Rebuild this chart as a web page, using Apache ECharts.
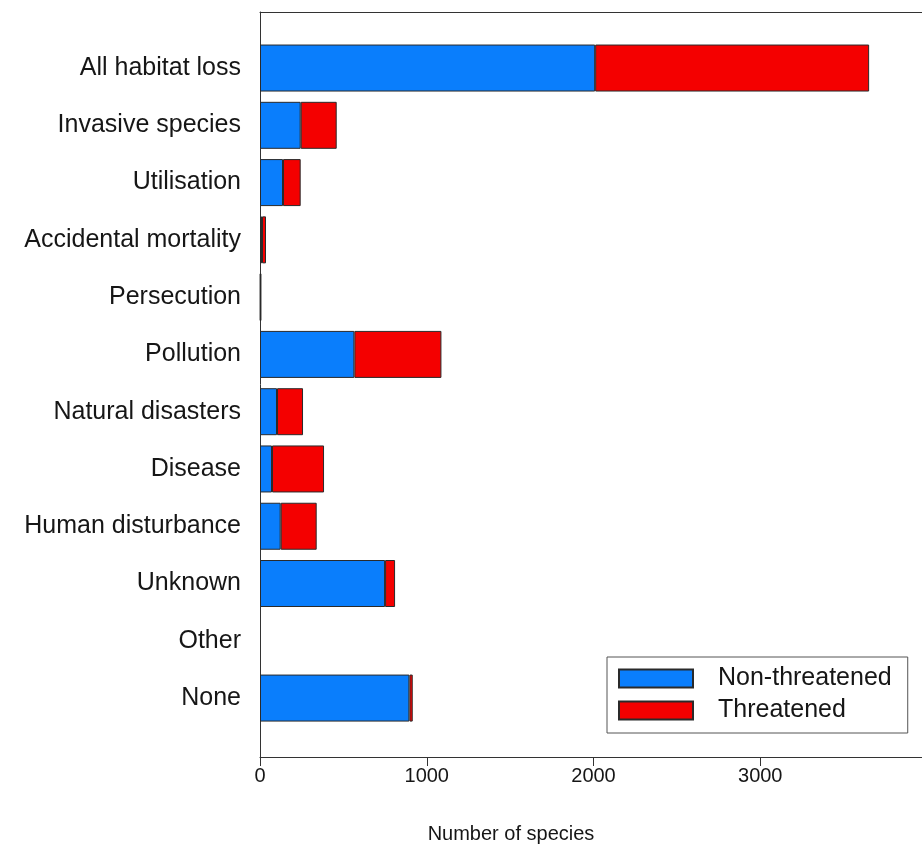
<!DOCTYPE html>
<html>
<head>
<meta charset="utf-8">
<script src="https://cdn.jsdelivr.net/npm/echarts@6/dist/echarts.min.js"></script>
<style>
  html, body { margin: 0; padding: 0; background: #fff; }
  #main { width: 922px; height: 852px; }
</style>
</head>
<body>
<div id="main"></div>
<script>
// threat categories, top to bottom
var categories = ['All habitat loss', 'Invasive species', 'Utilisation', 'Accidental mortality',
    'Persecution', 'Pollution', 'Natural disasters', 'Disease', 'Human disturbance',
    'Unknown', 'Other', 'None'];
// number of species per category
var nonThreatened = [2010, 244, 138, 12, 3, 566, 102, 72, 124, 750, 0, 896];
var threatened = [1643, 216, 106, 24, 3, 522, 156, 312, 216, 60, 0, 20];
var xTicks = [0, 1000, 2000, 3000];
var xMax = 3970; // axis runs off the right edge of the picture

var FONT = 'Liberation Sans, Arial, sans-serif';
var TXT = '#161616';
var LINE = '#333';

// empty bars are not drawn at all
function noZero(arr) {
    return arr.map(function (v) { return v === 0 ? '-' : v; });
}

var myChart = echarts.init(document.getElementById('main'), null, {renderer: 'canvas'});

var option = {
    backgroundColor: '#fff',
    animation: false,
    textStyle: {fontFamily: FONT},
    legend: {
        orient: 'vertical',
        left: 607,
        top: 657,
        padding: [9, 16, 10, 11],
        itemWidth: 74,
        itemHeight: 18,
        itemGap: 7,
        icon: 'rect',
        borderColor: '#555',
        borderWidth: 1,
        backgroundColor: '#fff',
        textStyle: {fontSize: 25, color: TXT, fontFamily: FONT, padding: [0, 0, 0, 20]},
        data: ['Non-threatened', 'Threatened']
    },
    graphic: [{
        type: 'text',
        x: 511,
        y: 834,
        style: {
            text: 'Number of species',
            fontSize: 20,
            fontFamily: FONT,
            fill: TXT,
            align: 'center',
            verticalAlign: 'middle'
        }
    }],
    grid: [
        // frame + x axis
        {left: 260, top: 12, bottom: 95, right: 0},
        // bars
        {left: 260, top: 39.4, height: 687.3, right: 0}
    ],
    xAxis: [
        {
            gridIndex: 0,
            type: 'value',
            min: 0,
            max: xMax,
            interval: 1000,
            axisLine: {show: true, lineStyle: {color: LINE, width: 1}},
            axisTick: {show: true, length: 9, lineStyle: {color: LINE}, customValues: xTicks},
            axisLabel: {
                fontSize: 20, color: TXT, margin: 9, fontFamily: FONT,
                customValues: xTicks,
                formatter: function (v) { return String(v); }
            },
            splitLine: {show: false}
        },
        {
            // top frame line
            gridIndex: 0,
            type: 'value',
            position: 'top',
            min: 0,
            max: xMax,
            axisLine: {show: true, lineStyle: {color: LINE, width: 1}},
            axisTick: {show: false},
            axisLabel: {show: false},
            splitLine: {show: false}
        },
        {
            gridIndex: 1,
            type: 'value',
            min: 0,
            max: xMax,
            show: false
        }
    ],
    yAxis: [
        {
            gridIndex: 0,
            type: 'value',
            axisLine: {show: true, lineStyle: {color: LINE, width: 1}},
            axisTick: {show: false},
            axisLabel: {show: false},
            splitLine: {show: false}
        },
        {
            gridIndex: 1,
            type: 'category',
            inverse: true,
            data: categories,
            axisLine: {show: false},
            axisTick: {show: false},
            axisLabel: {fontSize: 25, color: TXT, margin: 19, fontFamily: FONT}
        }
    ],
    series: [
        {
            name: 'Non-threatened',
            type: 'bar',
            stack: 'total',
            xAxisIndex: 2,
            yAxisIndex: 1,
            barWidth: 47,
            data: noZero(nonThreatened),
            itemStyle: {color: '#0a7efc', borderColor: '#2a2a2a', borderWidth: 1}
        },
        {
            name: 'Threatened',
            type: 'bar',
            stack: 'total',
            xAxisIndex: 2,
            yAxisIndex: 1,
            barWidth: 47,
            data: noZero(threatened),
            itemStyle: {color: '#f40000', borderColor: '#2a2a2a', borderWidth: 1}
        }
    ]
};

myChart.setOption(option);
</script>
</body>
</html>
